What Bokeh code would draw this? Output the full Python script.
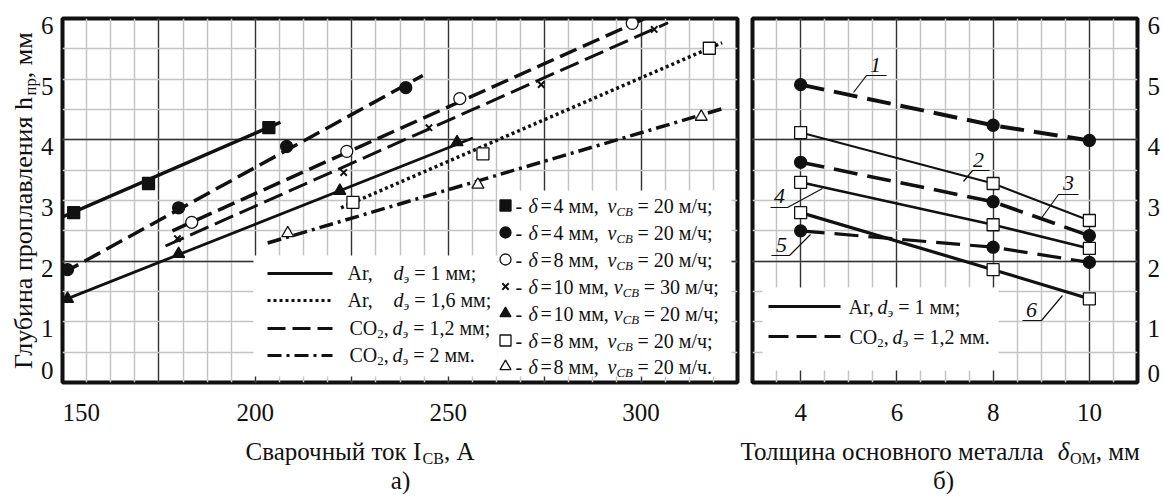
import math
from bokeh.plotting import figure
from bokeh.models import Range1d, FixedTicker, Label, Grid
from bokeh.layouts import row, column
from bokeh.embed import file_html
from bokeh.resources import INLINE

FONT = "Liberation Serif"
INK = "#111111"

# ---------------- panel а): penetration depth vs welding current ----------------
a_sqf_x = [152.9, 172.3, 203.5]
a_sqf_y = [2.80, 3.28, 4.20]
a_sqf_fit_x = [150.0, 206.5]
a_sqf_fit_y = [2.73, 4.29]

a_cif_x = [151.3, 180.1, 208.1, 239.0]
a_cif_y = [1.86, 2.88, 3.89, 4.86]
a_cif_fit_x = [150.0, 243.4]
a_cif_fit_y = [1.80, 5.06]

a_cio_x = [183.5, 223.7, 253.0, 297.7]
a_cio_y = [2.64, 3.81, 4.68, 5.92]
a_cio_fit_x = [178.5, 301.0]
a_cio_fit_y = [2.50, 6.00]

a_crs_x = [179.8, 222.9, 245.0, 274.1, 303.4]
a_crs_y = [2.37, 3.46, 4.20, 4.91, 5.82]
a_crs_fit_x = [176.7, 307.0]
a_crs_fit_y = [2.25, 5.93]

a_trf_x = [151.3, 180.1, 221.9, 252.3]
a_trf_y = [1.38, 2.12, 3.16, 3.96]
a_trf_fit_x = [150.0, 256.4]
a_trf_fit_y = [1.35, 4.03]

a_sqo_x = [225.3, 259.0, 317.7]
a_sqo_y = [2.97, 3.77, 5.51]
a_sqo_fit_x = [222.2, 321.0]
a_sqo_fit_y = [2.88, 5.60]

a_tro_x = [208.4, 257.7, 315.6]
a_tro_y = [2.46, 3.26, 4.38]
a_tro_fit_x = [203.2, 322.0]
a_tro_fit_y = [2.30, 4.53]

a_xticks = [150, 200, 250, 300]
y_ticks = [0, 1, 2, 3, 4, 5, 6]

a_line_gas = ["Ar", "Ar", "CO2", "CO2"]
a_line_d = ["1", "1,6", "1,2", "2"]
a_line_end = [";", ";", ";", "."]

a_mark_delta = ["4", "4", "8", "10", "10", "8", "8"]
a_mark_speed = ["20", "20", "20", "30", "20", "20", "20"]
a_mark_end = [";", ";", ";", ";", ";", ";", "."]

# ---------------- panel б): penetration depth vs plate thickness ----------------
b_x = [4, 8, 10]
b_c1 = [4.91, 4.24, 3.99]
b_c2 = [4.12, 3.28, 2.67]
b_c3 = [3.63, 2.98, 2.42]
b_c4 = [3.30, 2.60, 2.21]
b_c5 = [2.50, 2.23, 1.98]
b_c6 = [2.80, 1.86, 1.38]
b_ids = ["1", "2", "3", "4", "5", "6"]
b_xticks = [4, 6, 8, 10]

# ---------------- page geometry ----------------
ROW_H = 390
CAP_H = 109
TOTAL_H = ROW_H + CAP_H
W0, W1, W2, W4 = 57, 687, 396, 24
F1L, F1R, F2L, F2R, FT, FB = 62, 737, 752, 1137, 18, 382
MID = 0.32  # middle of the em box above the alphabetic baseline, in em


def X1(px): return 150 + (px - F1L) * 175.0 / (F1R - F1L)
def X2(px): return 3 + (px - F2L) * 8.0 / (F2R - F2L)
def Y(py): return (FB - py) * 6.0 / (FB - FT)
def PX1(v): return F1L + (v - 150) * (F1R - F1L) / 175.0
def PX2(v): return F2L + (v - 3) * (F2R - F2L) / 8.0
def PY(v): return FB - v * (FB - FT) / 6.0
def X0(px): return px
def Y0(py): return ROW_H - py
def X4(px): return px - (W0 + W1 + W2)
def X3(px): return px
def Y3(py): return TOTAL_H - py


CW = {' ': 250, ',': 250, '.': 250, ';': 278, '-': 333, '=': 564, '/': 278, '(': 333, ')': 333,
      'A': 722, 'r': 333, 'C': 667, 'O': 722, 'h': 500, 'I': 333, 'd': 500, 'v': 444, 'δ': 490,
      'а': 444, 'б': 509, 'в': 472, 'г': 410, 'е': 444, 'и': 535, 'й': 535, 'к': 486, 'л': 499,
      'м': 633, 'н': 535, 'о': 500, 'п': 535, 'р': 500, 'с': 444, 'т': 437, 'у': 500, 'ч': 503,
      'щ': 770, 'ы': 672, 'э': 440, 'я': 481, 'Г': 578, 'С': 667, 'Т': 611, 'О': 722, 'М': 889,
      'А': 722, 'В': 667}


def tw(s, fs):
    return sum(CW.get(c, 500) for c in s) * fs / 1000.0


def label(fig, fx, fy, px, pybase, text, size, align="left", style="normal"):
    # horizontal text whose alphabetic baseline sits at page row `pybase`
    fig.add_layout(Label(x=fx(px), y=fy(pybase - MID * size), text=text, text_font=FONT,
                         text_font_size=f"{size:.1f}px", text_font_style=style,
                         text_align=align, text_baseline="middle", text_color=INK))


def vlabel(fig, fx, fy, pxc, pyc, text, size, style="normal"):
    fig.add_layout(Label(x=fx(pxc), y=fy(pyc), text=text, text_font=FONT,
                         text_font_size=f"{size:.1f}px", text_font_style=style,
                         text_align="center", text_baseline="middle", angle=math.pi / 2,
                         text_color=INK))


def rich(fig, fx, fy, px, py, pieces, size, vertical=False):
    pos = 0.0
    for text, kind in pieces:
        sub = kind in ("s", "si")
        ital = kind in ("i", "si")
        fs = size * 0.64 if sub else size
        core = text.strip(" ")
        lead = len(text) - len(text.lstrip(" "))
        trail = (len(text) - len(text.rstrip(" "))) if core else 0
        pos += tw(" " * lead, fs)
        if core:
            w = tw(core, fs)
            shift = size * 0.17 if sub else 0.0
            style = "italic" if ital else "normal"
            if vertical:
                vlabel(fig, fx, fy, px + shift - MID * fs, py - pos - w / 2.0, core, fs, style)
            else:
                label(fig, fx, fy, px + pos, py + shift, core, fs, style=style)
        pos += tw(core, fs) + tw(" " * trail, fs)
    return px + pos


def blank_fig(width, height):
    p = figure(width=width, height=height, x_range=Range1d(0, width), y_range=Range1d(0, height),
               output_backend="svg", toolbar_location=None, title=None,
               x_axis_location=None, y_axis_location=None, min_border=0,
               min_border_top=0, min_border_bottom=0, min_border_left=0, min_border_right=0,
               frame_align=False)
    p.center = [r for r in p.center if not isinstance(r, Grid)]
    p.outline_line_color = None
    p.background_fill_color = "white"
    p.border_fill_color = "white"
    return p


def add_grid(p, dim, major, minor):
    p.add_layout(Grid(dimension=dim, ticker=FixedTicker(ticks=major, minor_ticks=minor),
                      grid_line_color="#333333", grid_line_width=1.3,
                      minor_grid_line_color="#c4c4c4", minor_grid_line_width=1.5), "center")


def base_fig(width, xr, grid_major, grid_minor, mbl, mbr):
    p = figure(width=width, height=ROW_H, x_range=Range1d(*xr), y_range=Range1d(0, 6),
               output_backend="svg", toolbar_location=None, title=None,
               x_axis_location=None, y_axis_location=None,
               min_border_left=mbl, min_border_right=mbr,
               min_border_top=FT, min_border_bottom=ROW_H - FB, frame_align=False)
    p.center = [r for r in p.center if not isinstance(r, Grid)]
    p.background_fill_color = "white"
    p.border_fill_color = "white"
    p.outline_line_color = INK
    p.outline_line_width = 4
    add_grid(p, 0, grid_major, grid_minor)
    add_grid(p, 1, [2, 4], [0.5 * i for i in range(13)])
    return p


# ================= left strip: y title and y tick labels =================
p0 = blank_fig(W0, ROW_H)
rich(p0, X0, Y0, 31, 370, [("Глубина проплавления h", "n"), ("пр", "s"), (", мм", "n")], 26,
     vertical=True)
for v in y_ticks:
    base = PY(v) + 15 if v > 0 else 378
    label(p0, X0, Y0, 53, base, str(v), 25, align="right")

# ================= panel а) =================
p1 = base_fig(W1, (150, 325), [175, 200, 225, 250, 275, 300],
              [150 + 6.25 * i for i in range(29)], F1L - W0, W0 + W1 - F1R)

# white legend backgrounds
p1.quad(left=[X1(253), X1(497)], right=[X1(497), X1(731)], bottom=[Y(376), Y(376)],
        top=[Y(255), Y(190)], fill_color="white", line_color=None)

LONG = "18 7"
DOT = "3 3"
DASHDOT = "14 5 3 5"

series_a = [
    (a_sqf_x, a_sqf_y, a_sqf_fit_x, a_sqf_fit_y, "solid", 3.5, "square", 12, INK),
    (a_cif_x, a_cif_y, a_cif_fit_x, a_cif_fit_y, LONG, 3.5, "circle", 12, INK),
    (a_cio_x, a_cio_y, a_cio_fit_x, a_cio_fit_y, LONG, 3.5, "circle", 12, "white"),
    (a_crs_x, a_crs_y, a_crs_fit_x, a_crs_fit_y, "20 7", 3.0, "x", 9, None),
    (a_trf_x, a_trf_y, a_trf_fit_x, a_trf_fit_y, "solid", 2.8, "triangle", 12, INK),
    (a_sqo_x, a_sqo_y, a_sqo_fit_x, a_sqo_fit_y, DOT, 3.5, "square", 12, "white"),
    (a_tro_x, a_tro_y, a_tro_fit_x, a_tro_fit_y, DASHDOT, 3.5, "triangle", 12, "white"),
]
for xs, ys, fx_, fy_, dash, lw, mk, ms, fill in series_a:
    p1.line(fx_, fy_, line_color=INK, line_width=lw, line_dash=dash)
for xs, ys, fx_, fy_, dash, lw, mk, ms, fill in series_a:
    if mk == "x":
        p1.scatter(xs, ys, marker="x", size=ms, line_color=INK, line_width=2)
    else:
        p1.scatter(xs, ys, marker=mk, size=ms, fill_color=fill, line_color=INK, line_width=1.3)

# line-style legend
line_dashes = ["solid", DOT, LONG, DASHDOT]
row_base = [279, 306, 334, 361]
for i in range(4):
    yb = row_base[i]
    p1.line([X1(267), X1(332)], [Y(yb - 6), Y(yb - 6)], line_color=INK, line_width=3,
            line_dash=line_dashes[i])
    if a_line_gas[i] == "Ar":
        rich(p1, X1, Y, 347, yb, [("Ar,", "n")], 20)
        dx = 393
    else:
        rich(p1, X1, Y, 349, yb, [("CO", "n"), ("2", "s"), (",", "n")], 20)
        dx = 392
    rich(p1, X1, Y, dx, yb, [("d", "i"), ("э", "si"), (" = " + a_line_d[i] + " мм" + a_line_end[i], "n")], 20)

# marker legend
mk_list = [("square", INK), ("circle", INK), ("circle", "white"), ("x", None),
           ("triangle", INK), ("square", "white"), ("triangle", "white")]
mrow = [212, 239, 266, 293, 320, 347, 373]
for i in range(7):
    yb = mrow[i]
    mk, fill = mk_list[i]
    if mk == "x":
        p1.scatter([X1(505)], [Y(yb - 7)], marker="x", size=9, line_color=INK, line_width=2)
    else:
        p1.scatter([X1(505)], [Y(yb - 7)], marker=mk, size=11, fill_color=fill,
                   line_color=INK, line_width=1.3)
    rich(p1, X1, Y, 515, yb, [("-", "n")], 20)
    rich(p1, X1, Y, 528, yb, [("δ", "i")], 20)
    rich(p1, X1, Y, 540, yb, [("=", "n")], 20)
    e = rich(p1, X1, Y, 553, yb, [(a_mark_delta[i] + " мм,", "n")], 20)
    vx = max(607, e + 5)
    e2 = rich(p1, X1, Y, vx, yb, [("v", "i"), ("СВ", "si")], 20)
    rich(p1, X1, Y, max(634, e2 + 4), yb,
         [("= " + a_mark_speed[i] + " м/ч" + a_mark_end[i], "n")], 20)

# ================= panel б) =================
p2 = base_fig(W2, (3, 11), [4, 6, 8, 10], [3 + 0.5 * i for i in range(17)],
              F2L - (W0 + W1), (W0 + W1 + W2) - F2R)
p2.quad(left=[X2(762)], right=[X2(998)], bottom=[Y(370)], top=[Y(287)],
        fill_color="white", line_color=None)

BDASH = "24 10"
series_b = [
    (b_c1, BDASH, 4.0, "circle", INK),
    (b_c2, "solid", 2.0, "square", "white"),
    (b_c3, BDASH, 3.6, "circle", INK),
    (b_c4, "solid", 2.6, "square", "white"),
    (b_c5, BDASH, 3.2, "circle", INK),
    (b_c6, "solid", 3.2, "square", "white"),
]
for ys, dash, lw, mk, fill in series_b:
    p2.line(b_x, ys, line_color=INK, line_width=lw, line_dash=dash)
for ys, dash, lw, mk, fill in series_b:
    p2.scatter(b_x, ys, marker=mk, size=12, fill_color=fill, line_color=INK, line_width=1.3)

# curve numbers with leader lines
num_pos = [(875, 72), (978, 167), (1068, 190), (779, 203), (781, 252), (1031, 317)]
leaders = [
    [(853, 92), (866, 75), (886, 75)],
    [(963, 181), (972, 170), (989, 170)],
    [(1040, 219), (1058, 194), (1078, 194)],
    [(822, 188), (787, 207), (770, 207)],
    [(810, 234), (789, 255), (771, 255)],
    [(1062, 295), (1041, 320), (1022, 320)],
]
for i in range(6):
    p2.line([X2(a) for a, b in leaders[i]], [Y(b) for a, b in leaders[i]],
            line_color=INK, line_width=1.2)
    cx, cy = num_pos[i]
    label(p2, X2, Y, cx, cy, b_ids[i], 22, align="center", style="italic")

# legend of panel б)
p2.line([X2(768), X2(840)], [Y(306), Y(306)], line_color=INK, line_width=3)
p2.line([X2(768), X2(840)], [Y(336), Y(336)], line_color=INK, line_width=3, line_dash="20 8")
rich(p2, X2, Y, 848, 313, [("Ar,", "n")], 20)
rich(p2, X2, Y, 877, 313, [("d", "i"), ("э", "si"), (" = 1 мм;", "n")], 20)
rich(p2, X2, Y, 849, 343, [("CO", "n"), ("2", "s"), (",", "n")], 20)
rich(p2, X2, Y, 892, 343, [("d", "i"), ("э", "si"), (" = 1,2 мм.", "n")], 20)

# ================= right strip: y tick labels of panel б) =================
p4 = blank_fig(W4, ROW_H)
for v in y_ticks:
    base = PY(v) + 15 if v > 0 else 381
    label(p4, X4, Y0, 1147, base, str(v), 25)

# ================= caption strip: x tick labels, axis titles, panel letters =================
p3 = blank_fig(W0 + W1 + W2 + W4, CAP_H)
for v in a_xticks:
    if v == a_xticks[0]:
        label(p3, X3, Y3, PX1(v), 420, str(v), 25, align="left")
    else:
        label(p3, X3, Y3, PX1(v), 420, str(v), 25, align="center")
for v in b_xticks:
    label(p3, X3, Y3, PX2(v), 420, str(v), 25, align="center")
rich(p3, X3, Y3, 245, 459, [("Сварочный ток I", "n"), ("СВ", "s"), (", А", "n")], 25)
rich(p3, X3, Y3, 740, 459, [("Толщина основного металла", "n"), ("  δ", "i"), ("ОМ", "s"),
                            (", мм", "n")], 25)
for cx, t in [(400, "а)"), (943, "б)")]:
    label(p3, X3, Y3, cx, 488, t, 25, align="center")

layout = column(row(p0, p1, p2, p4), p3)
with open("out.html", "w", encoding="utf-8") as f:
    f.write(file_html(layout, INLINE))
